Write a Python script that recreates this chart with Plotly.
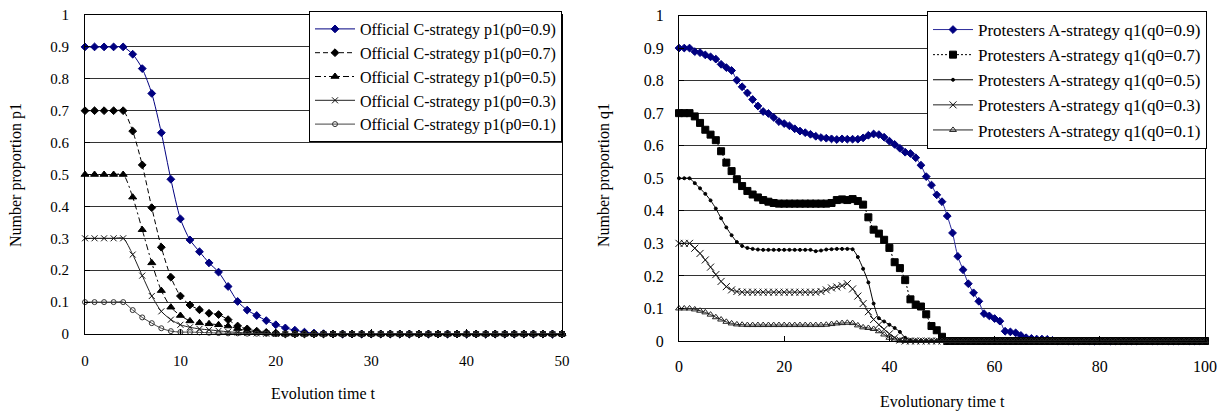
import plotly.graph_objects as go

# ---------------- data ----------------
t_left = list(range(0, 51))
p09 = [0.9, 0.9, 0.9, 0.9, 0.9, 0.877, 0.832, 0.754, 0.631, 0.485, 0.361, 0.295, 0.258, 0.223, 0.194,
       0.149, 0.102, 0.075, 0.058, 0.042, 0.029, 0.019, 0.012, 0.006, 0.003, 0.001,
       0, 0, 0, 0, 0, 0, 0, 0, 0, 0, 0, 0, 0, 0, 0, 0, 0, 0, 0, 0, 0, 0, 0, 0, 0]
p07 = [0.7, 0.7, 0.7, 0.7, 0.7, 0.636, 0.530, 0.396, 0.272, 0.178, 0.119, 0.091, 0.076, 0.065, 0.061,
       0.045, 0.025, 0.016, 0.009, 0.005, 0.003,
       0, 0, 0, 0, 0, 0, 0, 0, 0, 0, 0, 0, 0, 0, 0, 0, 0, 0, 0, 0, 0, 0, 0, 0, 0, 0, 0, 0, 0, 0]
p05 = [0.5, 0.5, 0.5, 0.5, 0.5, 0.429, 0.327, 0.223, 0.136, 0.084, 0.058, 0.041, 0.035, 0.032, 0.029,
       0.025, 0.017, 0.010, 0.006, 0.003,
       0, 0, 0, 0, 0, 0, 0, 0, 0, 0, 0, 0, 0, 0, 0, 0, 0, 0, 0, 0, 0, 0, 0, 0, 0, 0, 0, 0, 0, 0, 0]
p03 = [0.3, 0.3, 0.3, 0.3, 0.3, 0.249, 0.183, 0.119, 0.071, 0.045, 0.029, 0.021, 0.016, 0.013, 0.010,
       0.007, 0.005, 0.003, 0.002, 0.001,
       0, 0, 0, 0, 0, 0, 0, 0, 0, 0, 0, 0, 0, 0, 0, 0, 0, 0, 0, 0, 0, 0, 0, 0, 0, 0, 0, 0, 0, 0, 0]
p01 = [0.1, 0.1, 0.1, 0.1, 0.1, 0.075, 0.052, 0.034, 0.018, 0.009, 0.006, 0.006, 0.005, 0.004, 0.003,
       0.002, 0.002, 0.001, 0.001, 0.001,
       0, 0, 0, 0, 0, 0, 0, 0, 0, 0, 0, 0, 0, 0, 0, 0, 0, 0, 0, 0, 0, 0, 0, 0, 0, 0, 0, 0, 0, 0, 0]

t_right = list(range(0, 101))
q09 = [0.9, 0.9, 0.9, 0.889, 0.886, 0.879, 0.873, 0.866, 0.850, 0.840, 0.831, 0.801, 0.781, 0.762, 0.742,
       0.722, 0.705, 0.699, 0.687, 0.674, 0.668, 0.661, 0.652, 0.645, 0.640, 0.635, 0.629, 0.625, 0.623,
       0.621, 0.619, 0.621, 0.620, 0.620, 0.620, 0.624, 0.632, 0.636, 0.634, 0.626, 0.614, 0.604, 0.592,
       0.580, 0.576, 0.563, 0.540, 0.505, 0.479, 0.449, 0.428, 0.384, 0.332, 0.260, 0.219, 0.176, 0.148,
       0.122, 0.084, 0.077, 0.069, 0.061, 0.030, 0.028, 0.025, 0.017, 0.010, 0.008, 0.006, 0.006, 0.005,
       0.002,
       0, 0, 0, 0, 0, 0, 0, 0, 0, 0, 0, 0, 0, 0, 0, 0, 0, 0, 0, 0, 0, 0, 0, 0, 0, 0, 0, 0, 0]
q07 = [0.7, 0.7, 0.7, 0.69, 0.67, 0.649, 0.634, 0.617, 0.583, 0.548, 0.522, 0.497, 0.476, 0.461, 0.450,
       0.441, 0.433, 0.428, 0.424, 0.422, 0.422, 0.422, 0.422, 0.422, 0.422, 0.422, 0.422, 0.422, 0.422,
       0.424, 0.433, 0.435, 0.433, 0.436, 0.430, 0.419, 0.380, 0.342, 0.330, 0.311, 0.286, 0.242, 0.224,
       0.187, 0.128, 0.112, 0.106, 0.082, 0.046, 0.033, 0.013,
       0, 0, 0, 0, 0, 0, 0, 0, 0, 0, 0, 0, 0, 0, 0, 0, 0, 0, 0, 0, 0, 0, 0, 0, 0,
       0, 0, 0, 0, 0, 0, 0, 0, 0, 0, 0, 0, 0, 0, 0, 0, 0, 0, 0, 0, 0, 0, 0, 0, 0]
q05 = [0.5, 0.5, 0.5, 0.485, 0.469, 0.452, 0.432, 0.407, 0.377, 0.349, 0.325, 0.304, 0.292, 0.286, 0.283,
       0.281, 0.28, 0.28, 0.28, 0.28, 0.28, 0.28, 0.28, 0.28, 0.28, 0.28, 0.276, 0.278, 0.281, 0.282,
       0.283, 0.283, 0.283, 0.282, 0.258, 0.222, 0.180, 0.115, 0.070, 0.060, 0.050, 0.040, 0.028, 0.010,
       0.003,
       0, 0, 0, 0, 0, 0, 0, 0, 0, 0, 0, 0, 0, 0, 0, 0, 0, 0, 0, 0, 0, 0, 0, 0, 0, 0, 0, 0,
       0, 0, 0, 0, 0, 0, 0, 0, 0, 0, 0, 0, 0, 0, 0, 0, 0, 0, 0, 0, 0, 0, 0, 0, 0, 0, 0, 0]
q03 = [0.3, 0.3, 0.3, 0.285, 0.269, 0.249, 0.227, 0.204, 0.183, 0.167, 0.157, 0.152, 0.150, 0.15, 0.15,
       0.15, 0.15, 0.15, 0.15, 0.15, 0.15, 0.15, 0.15, 0.15, 0.15, 0.15, 0.15, 0.152, 0.157, 0.163,
       0.166, 0.170, 0.176, 0.160, 0.138, 0.115, 0.090, 0.066, 0.050, 0.036, 0.022, 0.010, 0.003,
       0, 0, 0, 0, 0, 0, 0, 0, 0, 0, 0, 0, 0, 0, 0, 0, 0, 0, 0, 0, 0, 0, 0, 0, 0, 0, 0, 0, 0,
       0, 0, 0, 0, 0, 0, 0, 0, 0, 0, 0, 0, 0, 0, 0, 0, 0, 0, 0, 0, 0, 0, 0, 0, 0, 0, 0, 0, 0]
q01 = [0.1, 0.1, 0.1, 0.097, 0.093, 0.088, 0.081, 0.073, 0.066, 0.059, 0.054, 0.051, 0.050, 0.049, 0.049,
       0.049, 0.049, 0.049, 0.049, 0.049, 0.049, 0.049, 0.049, 0.049, 0.049, 0.049, 0.049, 0.049, 0.050,
       0.052, 0.054, 0.055, 0.056, 0.055, 0.048, 0.042, 0.040, 0.037, 0.030, 0.020, 0.010, 0.004, 0.001,
       0, 0, 0, 0, 0, 0, 0, 0, 0, 0, 0, 0, 0, 0, 0, 0, 0, 0, 0, 0, 0, 0, 0, 0, 0, 0, 0, 0, 0,
       0, 0, 0, 0, 0, 0, 0, 0, 0, 0, 0, 0, 0, 0, 0, 0, 0, 0, 0, 0, 0, 0, 0, 0, 0, 0, 0, 0, 0]

left_names = ["Official C-strategy p1(p0=0.9)", "Official C-strategy p1(p0=0.7)",
              "Official C-strategy p1(p0=0.5)", "Official C-strategy p1(p0=0.3)",
              "Official C-strategy p1(p0=0.1)"]
right_names = ["Protesters A-strategy q1(q0=0.9)", "Protesters A-strategy q1(q0=0.7)",
               "Protesters A-strategy q1(q0=0.5)", "Protesters A-strategy q1(q0=0.3)",
               "Protesters A-strategy q1(q0=0.1)"]
y_ticks = [0, 0.1, 0.2, 0.3, 0.4, 0.5, 0.6, 0.7, 0.8, 0.9, 1]
y_tick_text = ["0", "0.1", "0.2", "0.3", "0.4", "0.5", "0.6", "0.7", "0.8", "0.9", "1"]

FONT = "Liberation Serif"
PAGE_W, PAGE_H = 1227, 413
OFF = 8  # default page body margin
W, H = PAGE_W - OFF, PAGE_H - OFF
NAVY = "#000080"

fig = go.Figure()

left_styles = [
    dict(color=NAVY, dash="solid", symbol="diamond", size=6, lc=NAVY),
    dict(color="black", dash="5px,3px", symbol="diamond", size=6, lc="black"),
    dict(color="black", dash="6px,3px,2px,3px", symbol="triangle-up", size=7, lc="black"),
    dict(color="#111111", dash="solid", symbol="x-thin-open", size=6, lc="#222222"),
    dict(color="#333333", dash="solid", symbol="circle-open", size=5, lc="#444444"),
]
for i, (ys, nm, st) in enumerate(zip([p09, p07, p05, p03, p01], left_names, left_styles)):
    fig.add_trace(go.Scatter(
        x=t_left, y=ys, name=nm, mode="lines+markers", xaxis="x", yaxis="y",
        legend="legend", cliponaxis=False,
        line=dict(color=st["lc"], width=1, dash=st["dash"], shape="spline", smoothing=0.7),
        marker=dict(symbol=st["symbol"], size=st["size"], color=st["color"],
                    line=dict(color=st["color"], width=1)),
    ))

right_styles = [
    dict(color=NAVY, dash="solid", symbol="diamond", size=6, lc="#2a2a9a"),
    dict(color="black", dash="2px,2px", symbol="square", size=7, lc="black"),
    dict(color="black", dash="solid", symbol="circle", size=3, lc="black"),
    dict(color="#111111", dash="solid", symbol="x-thin-open", size=7, lc="#222222"),
    dict(color="#222222", dash="solid", symbol="triangle-up-open", size=6, lc="#222222"),
]
for i, (ys, nm, st) in enumerate(zip([q09, q07, q05, q03, q01], right_names, right_styles)):
    fig.add_trace(go.Scatter(
        x=t_right, y=ys, name=nm, mode="lines+markers", xaxis="x2", yaxis="y2",
        legend="legend2", cliponaxis=False,
        line=dict(color=st["lc"], width=1, dash=st["dash"], shape="spline", smoothing=0.7),
        marker=dict(symbol=st["symbol"], size=st["size"], color=st["color"],
                    line=dict(color=st["color"], width=1)),
    ))

def px_x(p):
    """page pixel x -> paper fraction"""
    return (p - OFF) / W

def px_y(p):
    """page pixel y (from top) -> paper fraction"""
    return (H - (p - OFF)) / H

axis_common = dict(showline=True, linecolor="black", linewidth=1, mirror=True,
                   ticks="inside", ticklen=5, tickcolor="black", zeroline=False,
                   automargin=False, ticklabeloverflow="allow")

fig.update_layout(
    width=W, height=H, margin=dict(l=0, r=0, t=0, b=0, autoexpand=False),
    paper_bgcolor="white", plot_bgcolor="white",
    font=dict(family=FONT, color="black"),
    xaxis=dict(domain=[px_x(85), px_x(562)], range=[0, 50], dtick=10, showgrid=False,
               anchor="y", ticklabelstandoff=13,
               tickfont=dict(family=FONT, size=15, color="black"), **axis_common),
    yaxis=dict(domain=[px_y(334), px_y(15)], range=[0, 1], tickvals=y_ticks, ticktext=y_tick_text,
               showgrid=True, gridcolor="#333333", gridwidth=1, anchor="x",
               ticklabelstandoff=12,
               tickfont=dict(family=FONT, size=15, color="black"), **axis_common),
    xaxis2=dict(domain=[px_x(679), px_x(1205)], range=[0, 100], dtick=20, showgrid=False,
                anchor="y2", ticklabelstandoff=11,
                tickfont=dict(family=FONT, size=16, color="black"), **axis_common),
    yaxis2=dict(domain=[px_y(341), px_y(15.5)], range=[0, 1], tickvals=y_ticks, ticktext=y_tick_text,
                showgrid=True, gridcolor="#333333", gridwidth=1, anchor="x2",
                ticklabelstandoff=11,
                tickfont=dict(family=FONT, size=16, color="black"), **axis_common),
    legend=dict(x=px_x(562), xanchor="right", y=px_y(11), yanchor="top",
                bgcolor="white", bordercolor="black", borderwidth=1,
                font=dict(family=FONT, size=16, color="black"), itemwidth=40),
    legend2=dict(x=px_x(1207), xanchor="right", y=px_y(11), yanchor="top",
                 bgcolor="white", bordercolor="black", borderwidth=1,
                 font=dict(family=FONT, size=17, color="black"), itemwidth=40),
    showlegend=True,
)

annotations = [
    dict(text="Evolution time t", x=px_x(323), y=px_y(393), xref="paper", yref="paper",
         showarrow=False, font=dict(family=FONT, size=16, color="black"), xanchor="center", yanchor="middle"),
    dict(text="Evolutionary time t", x=px_x(942), y=px_y(402), xref="paper", yref="paper",
         showarrow=False, font=dict(family=FONT, size=16, color="black"), xanchor="center", yanchor="middle"),
    dict(text="Number proportion p1", x=px_x(16), y=px_y(175), xref="paper", yref="paper",
         showarrow=False, textangle=-90, font=dict(family=FONT, size=16, color="black"),
         xanchor="center", yanchor="middle"),
    dict(text="Number proportion q1", x=px_x(604), y=px_y(175), xref="paper", yref="paper",
         showarrow=False, textangle=-90, font=dict(family=FONT, size=16, color="black"),
         xanchor="center", yanchor="middle"),
]
fig.update_layout(annotations=annotations)

fig.write_html("out.html")
